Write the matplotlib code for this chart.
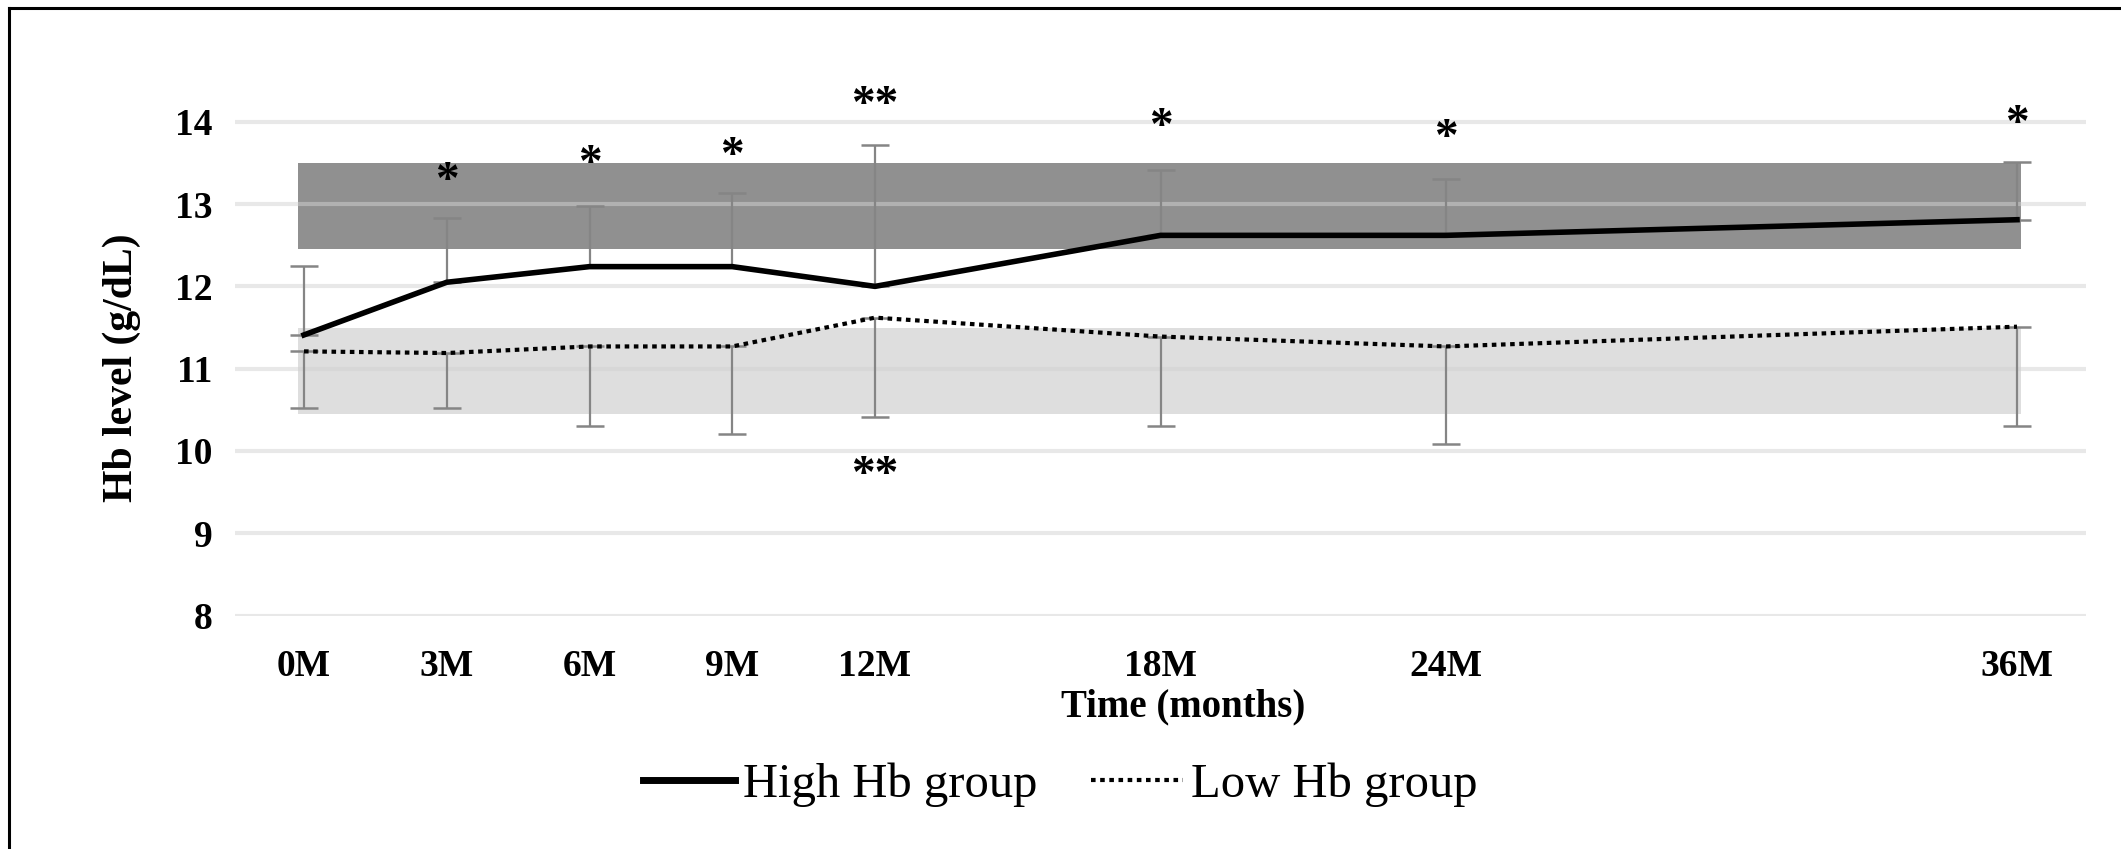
import matplotlib
matplotlib.use("Agg")
import matplotlib.pyplot as plt
from matplotlib.lines import Line2D
from matplotlib.transforms import offset_copy
import numpy as np

# data
months = [0, 3, 6, 9, 12, 18, 24, 36]
tick_labels = ["0M", "3M", "6M", "9M", "12M", "18M", "24M", "36M"]
high_mean = [11.41, 12.05, 12.24, 12.24, 12.0, 12.62, 12.62, 12.81]
high_upper = [12.25, 12.83, 12.98, 13.14, 13.72, 13.41, 13.30, 13.51]
low_mean = [11.21, 11.19, 11.27, 11.27, 11.62, 11.39, 11.27, 11.51]
low_lower = [10.52, 10.52, 10.30, 10.20, 10.41, 10.30, 10.09, 10.30]
high_band = [12.45, 13.5]
low_band = [10.45, 11.5]
band_x = [-0.12, 36.08]
star_months = [3, 6, 9, 12, 18, 24, 36, 12]
star_y = [13.38, 13.59, 13.68, 14.30, 14.03, 13.90, 14.07, 9.80]
star_text = ["*", "*", "*", "**", "*", "*", "*", "**"]

plt.rcParams['font.family'] = ['Liberation Serif', 'DejaVu Serif']

fig = plt.figure(figsize=(21.21, 8.49), dpi=100)
ax = fig.add_axes([0.1108, 0.275, 0.8727, 0.63])

# reference bands
ax.fill_between(band_x, high_band[0], high_band[1], color='#909090', lw=0, zorder=1)
ax.fill_between(band_x, low_band[0], low_band[1], color='#dedede', lw=0, zorder=1)

# gridlines on top of the bands
for yv in range(8, 15):
    ax.axhline(yv, color='#d2d2d2', alpha=0.5, lw=3, zorder=2)

x = np.array(months)
hm = np.array(high_mean)
lm = np.array(low_mean)
up_err = np.array(high_upper) - hm
low_err = lm - np.array(low_lower)

ax.errorbar(x, hm, yerr=[np.zeros_like(up_err), up_err], fmt='none',
            ecolor='#858585', elinewidth=1.6, capsize=10, capthick=1.8, zorder=3)
ax.errorbar(x, lm, yerr=[low_err, np.zeros_like(low_err)], fmt='none',
            ecolor='#858585', elinewidth=1.6, capsize=10, capthick=1.8, zorder=3)

ax.plot(x, lm, color='black', lw=3.0, linestyle=(0, (1.1, 1.1)), zorder=4,
        label='Low Hb group')
ax.plot(x, hm, color='black', lw=4.0, zorder=5, label='High Hb group')

# significance marks, nudged so the glyph centre sits on the value
star_tr = offset_copy(ax.transData, fig=fig, y=-9, units='dots')
for m, yv, s in zip(star_months, star_y, star_text):
    ax.text(m, yv, s, ha='center', va='center', fontsize=34, fontweight='bold',
            clip_on=False, zorder=6, transform=star_tr)

ax.set_xlim(-1.45, 37.45)
ax.set_ylim(8, 14.5)
ax.set_xticks(months)
ax.set_xticklabels(tick_labels)
ax.set_yticks(range(8, 15))
ax.tick_params(axis='both', length=0, labelsize=27)
ax.tick_params(axis='x', pad=24)
ax.tick_params(axis='y', pad=16)
for lab in ax.get_xticklabels() + ax.get_yticklabels():
    lab.set_fontweight('bold')
for spine in ax.spines.values():
    spine.set_visible(False)

ax.text(0.512, -0.171, "Time (months)", transform=ax.transAxes, ha='center',
        va='center', fontsize=28, fontweight='bold')
ax.text(-0.061, 0.463, "Hb level (g/dL)", transform=ax.transAxes, ha='center',
        va='center', fontsize=30, fontweight='bold', rotation=90)

handles = [Line2D([], [], color='black', lw=5),
           Line2D([], [], color='black', lw=3.0, linestyle=(0, (1.1, 1.1)))]
ax.legend(handles, ['High Hb group', 'Low Hb group'], ncol=2, frameon=False,
          loc='center', bbox_to_anchor=(0.4457, -0.317), fontsize=35,
          handlelength=1.9, handletextpad=0.16, columnspacing=1.1)

# border of the cropped figure (left and top edges)
fig.add_artist(Line2D([9 / 2121, 9 / 2121], [0, 1 - 8 / 849], color='black',
                      lw=2.2, transform=fig.transFigure))
fig.add_artist(Line2D([9 / 2121, 1], [1 - 8 / 849, 1 - 8 / 849], color='black',
                      lw=2.2, transform=fig.transFigure))

plt.savefig("out.png", dpi=100)
